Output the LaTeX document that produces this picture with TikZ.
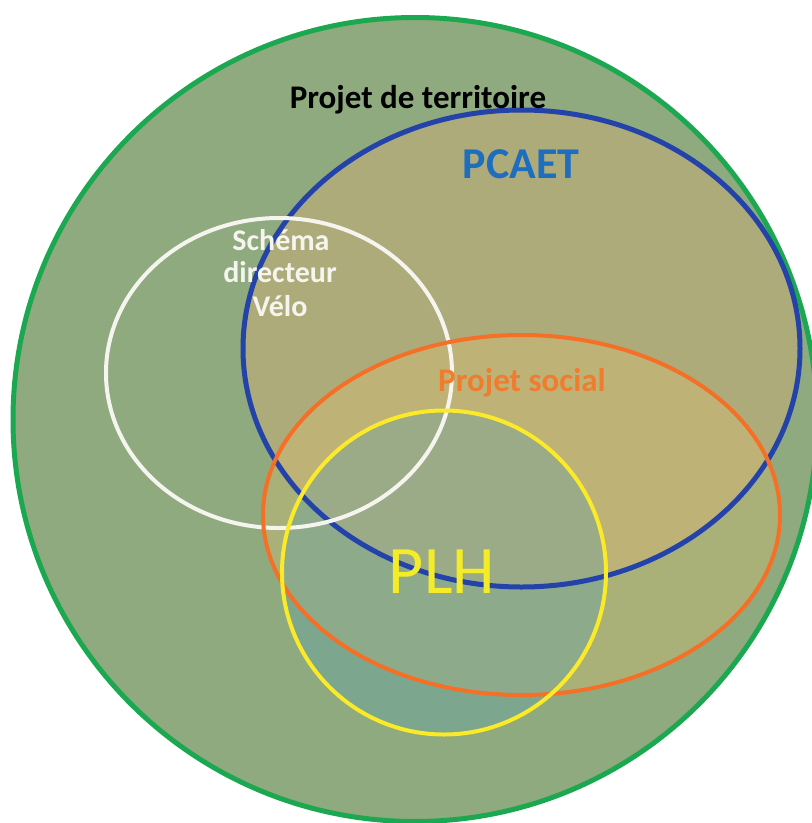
\documentclass[tikz,border=0pt]{standalone}
\usepackage{fontspec}
\setmainfont{Carlito}
\definecolor{bgfill}{RGB}{143,170,126}
\definecolor{cgreen}{RGB}{28,168,80}
\definecolor{cblue}{RGB}{35,66,170}
\definecolor{bluefill}{RGB}{200,172,122}
\definecolor{cwhite}{RGB}{246,244,238}
\definecolor{corange}{RGB}{245,112,38}
\definecolor{orangefill}{RGB}{232,196,110}
\definecolor{cyellow}{RGB}{250,234,40}
\definecolor{yellowfill}{RGB}{90,160,170}
\definecolor{tblue}{RGB}{30,110,192}
\definecolor{torange}{RGB}{240,125,45}
\definecolor{tyellow}{RGB}{244,236,40}
\tikzset{
  ring/.style={line width=#1},
  lbl/.style={inner sep=0pt, anchor=base, font=\bfseries}
}
\begin{document}
\begin{tikzpicture}[x=1pt,y=-1pt]
\useasboundingbox (0,0) rectangle (812,823);
\fill[white] (0,0) rectangle (812,823);
\begin{scope}
\clip (0,0) rectangle (812,823);
% fills
\fill[bgfill] (415,419.5) circle [radius=402];
\fill[bluefill, fill opacity=0.55] (521.5,348.5) ellipse [x radius=278.5, y radius=238.5];
\fill[orangefill, fill opacity=0.3] (521.5,515) ellipse [x radius=258.5, y radius=180];
\fill[yellowfill, fill opacity=0.35] (444,572.5) circle [radius=162];
% outlines
\draw[ring=5pt, draw=cgreen] (415,419.5) circle [radius=402];
\draw[ring=5pt, draw=cblue] (521.5,348.5) ellipse [x radius=278.5, y radius=238.5];
\draw[ring=4pt, draw=cwhite] (279,373) ellipse [x radius=173, y radius=155];
\draw[ring=4pt, draw=corange] (521.5,515) ellipse [x radius=258.5, y radius=180];
\draw[ring=4pt, draw=cyellow] (444,572.5) circle [radius=162];
\end{scope}
\node[lbl, font=\bfseries\fontsize{33}{36}\selectfont, text=black] (territoire) at (418,108) {Projet de territoire};
\node[lbl, font=\bfseries\fontsize{44}{48}\selectfont, text=tblue] (pcaet) at (521,178) {PCAET};
\node[lbl, font=\bfseries\fontsize{30}{32}\selectfont, text=cwhite] (velo1) at (281,250) {Schéma};
\node[lbl, font=\bfseries\fontsize{30}{32}\selectfont, text=cwhite] (velo2) at (280,282) {directeur};
\node[lbl, font=\bfseries\fontsize{30}{32}\selectfont, text=cwhite] (velo3) at (280,316) {Vélo};
\node[lbl, font=\bfseries\fontsize{33}{36}\selectfont, text=torange] (social) at (522,391) {Projet social};
\node[lbl, font=\fontsize{68}{72}\selectfont, text=tyellow] (plh) at (442,593) {PLH};
\end{tikzpicture}
\end{document}
